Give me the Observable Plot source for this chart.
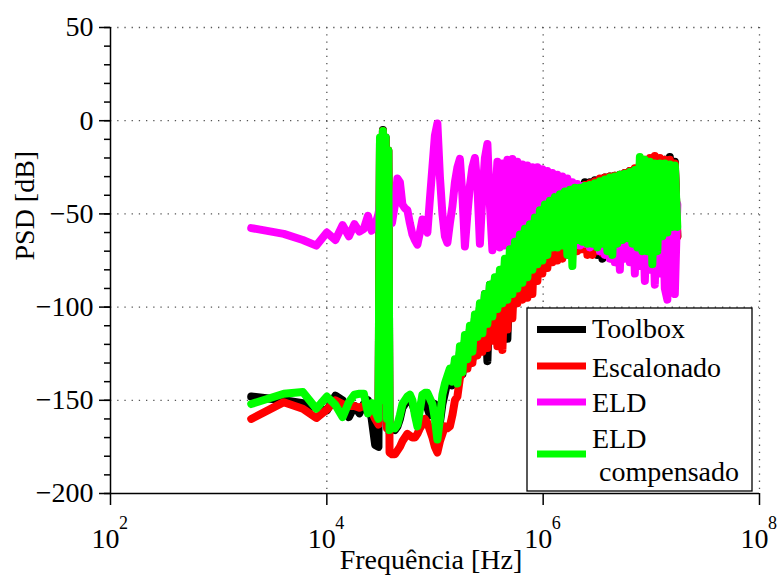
<!DOCTYPE html>
<html><head><meta charset="utf-8">
<script src="https://cdn.jsdelivr.net/npm/d3@7"></script>
<script src="https://cdn.jsdelivr.net/npm/@observablehq/plot@0.6"></script>
<style>html,body{margin:0;padding:0;background:#fff;overflow:hidden}#chart svg{display:block}</style>
</head><body><div id="chart"></div>
<script>
// Frequency grid [Hz]
const freqHz = [2000,4000,6000,8000,10000,12000,14000,16000,18000,20000,22000,24000,26000,28000,30000,
31000,32000,33000,34000,35000,36000,37000,38000,40000,
42600,44930,47380,49970,52700,55580,58610,61810,65190,68750,
72510,76470,80660,85060,89720,94620,99790,105200,111000,117100,
123500,130200,137300,144800,152800,161100,169900,179200,189000,199300,
210200,221700,233800,246600,260100,274300,289300,305100,321800,339400,
357900,377500,398100,419900,442600,466800,492400,519300,547700,577600,
609200,642500,677700,714700,753800,795000,838400,884200,932600,983600,
1037000,1094000,1154000,1217000,1283000,1353000,1427000,1505000,1587000,1674000,
1766000,1862000,1964000,2071000,2184000,2303000,2429000,2562000,2702000,2850000,
3005000,3169000,3342000,3525000,3718000,3921000,4136000,4362000,4600000,4851000,
5117000,5396000,5691000,6002000,6330000,6676000,7041000,7426000,7832000,8260000,
8711000,9187000,9690000,10220000,10770000,11360000,11990000,12640000,13330000,14060000,
14830000,15640000,16490000,17390000];

// PSD [dB]
const toolbox = [-148,-150,-151.5,-154,-155.5,-147.5,-150,-159,-153,-157,-152,-150,-160,-174,-175,
-12,-150,-5,-150,-9,-160,-16,-167,-165,
-166,-164,-160,-154,-152,-150,-150,-152,-156,-158,
-154,-150,-150,-154,-158,-155,-152,-157,-162,-152,
-146,-140,-136,-142,-130,-140,-124,-136,-118,-132,
-112,-128,-106,-124,-100,-122,-93,-129,-88,-112,
-85,-108,-82,-104,-78,-117,-73,-100,-69,-96,
-64,-93,-61,-90,-58,-86,-55,-83,-51,-80,
-48,-77,-46,-74,-43,-72,-41,-73,-39,-70,
-37.5,-69,-36,-68,-35,-67,-33,-68,-33,-70,
-32,-72,-31.5,-74,-30.5,-70,-30,-70,-29.5,-69,
-29,-68,-28,-68,-27,-69,-26,-70,-24,-71,
-23,-72,-22,-72,-21.5,-71,-21.5,-68,-21,-66,
-19.5,-64,-22,-62];

const escalonado = [-160,-151,-154.5,-159.5,-155,-150,-152,-153,-153,-154,-153,-154,-156,-160,-163,
-12,-150,-5.5,-150,-10,-165,-16,-178,-179,
-179,-177,-175,-172,-170,-168,-169,-170,-170,-168,
-165,-163,-160,-162,-166,-170,-175,-178,-172,-168,
-164,-165,-164,-158,-150,-148,-138,-135,-125,-133,
-118,-130,-112,-126,-106,-124,-100,-122,-96,-118,
-92,-121,-89,-123,-85,-112,-80,-106,-76,-98,
-71,-96,-67,-95,-63,-93,-60,-86,-56,-82,
-52,-79,-49,-76,-46,-75,-43,-74,-41,-72,
-39,-70,-37,-70,-36,-69,-34.5,-72,-33.5,-72,
-32.5,-70,-31,-71,-30.5,-72,-30,-74,-29.5,-76,
-29,-74,-28,-70,-27,-71,-25.5,-72,-23,-72,
-21,-71,-20,-70,-19,-69,-20,-68,-21,-66,
-21,-64,-23,-62];

const eld = [-57.6,-60.7,-64,-67,-60,-64,-56,-62,-55.5,-59.5,-58,-51,-59,-56,-50,
-45,-42,-45,-48,-52,-57,-55,-50,-55,
-45,-31,-33,-45,-47,-48,-55,-61,-64,-66.5,
-60,-53,-57,-60,-42,-25,-8,-1.5,-30,-50,
-62,-65.5,-55,-46,-33,-25,-20.5,-40,-67.5,-50,
-35,-25,-20,-35,-66,-40,-20,-12.5,-45,-69.5,
-45,-22,-68,-23,-67,-21,-66,-20.5,-65,-22,
-66,-23.5,-64,-24,-63,-25,-66,-25,-62,-26,
-64,-27,-62,-28,-63,-29,-62,-30,-64,-31,
-63,-33,-65,-34,-67,-35,-66,-36,-68,-36,
-67,-37,-70,-37,-72,-38,-74,-38,-76,-39,
-80,-39,-74,-40,-76,-40,-82,-40,-78,-41,
-86,-41,-80,-41,-88,-42,-82,-42,-90,-96,
-42,-85,-93,-45];

const eldCompensado = [-152,-146.5,-145.5,-154.5,-148,-152.5,-159,-151,-147,-146.5,-146.5,-157,-151.5,-156,-160,
-9,-150,-5.5,-150,-9,-160,-16,-166,-164,
-165,-163,-158,-152,-150,-148,-147,-150,-158,-164,
-155,-147,-146,-146,-149,-152,-160,-171,-160,-147,
-141,-137,-133,-140,-128,-141,-121,-135,-115,-128,
-110,-124,-104,-116,-98,-114,-93,-109,-88,-105,
-84,-101,-80,-98,-74,-96,-69,-93,-65,-90,
-61,-87,-58,-84,-55.5,-80,-52,-77,-48,-75,
-45,-72,-43,-68,-41,-68,-39.5,-67,-38,-72,
-37,-78,-36,-64,-36,-65,-35,-66,-34.5,-66,
-33.5,-68,-32.5,-66,-31.5,-70,-30.5,-72,-30,-66,
-29,-64,-28.5,-63,-27.5,-66,-26.5,-68,-19.5,-70,
-21,-70,-22,-77,-23,-70,-23,-62,-23,-60,
-23.5,-57,-24,-57];

const seriesNames = ["Toolbox", "Escalonado", "ELD", "ELD compensado"];
const seriesColors = ["#000000", "#ff0000", "#ff00ff", "#00ff00"];
const seriesValues = [toolbox, escalonado, eld, eldCompensado];

const yMajorTicks = [-200, -150, -100, -50, 0, 50];
const yMinorTicks = [-200,-190,-180,-170,-160,-150,-140,-130,-120,-110,-100,-90,-80,-70,-60,-50,-40,-30,-20,-10,0,10,20,30,40,50];
const yGridValues = [-150, -100, -50, 0, 50];
const xTicks = [1e2, 1e4, 1e6, 1e8];
const xTickExponents = ["2", "4", "6", "8"];
const xGridValues = [1e4, 1e6, 1e8];

const FONT = "Liberation Serif, Times New Roman, serif";
const fmt = d => d < 0 ? "\u2212" + (-d) : String(d);

const lineMarks = seriesValues.map((vals, s) => {
  const rows = [];
  for (let i = 0; i < freqHz.length; i++) {
    if (vals[i] !== undefined) rows.push({f: freqHz[i], v: vals[i]});
  }
  return Plot.line(rows, {x: "f", y: "v", stroke: seriesColors[s], strokeWidth: 8,
    strokeLinejoin: "round", strokeLinecap: "round"});
});

const chart = Plot.plot({
  width: 779, height: 578,
  marginLeft: 110, marginRight: 20, marginTop: 27, marginBottom: 85,
  style: {fontFamily: FONT, fontSize: "28px", background: "white", color: "black"},
  x: {type: "log", domain: [1e2, 1e8]},
  y: {domain: [-200, 50]},
  marks: [
    Plot.ruleY(yGridValues, {stroke: "#555", strokeWidth: 1.3, strokeDasharray: "1.3,5.9"}),
    Plot.ruleX(xGridValues, {stroke: "#555", strokeWidth: 1.3, strokeDasharray: "1.3,5.9"}),
    ...lineMarks,
    Plot.ruleX([1e2], {stroke: "black", strokeWidth: 1.5}),
    Plot.ruleY([-200], {stroke: "black", strokeWidth: 1.5}),
    Plot.axisY({ticks: yMinorTicks, anchor: "left", tickSize: 6, tickFormat: () => "", label: null, strokeWidth: 1.5}),
    Plot.axisY({ticks: yMajorTicks, anchor: "left", tickSize: 11, tickPadding: 6, tickFormat: fmt, label: null,
      strokeWidth: 1.5, fontSize: 28, fontFamily: FONT}),
    Plot.axisX({ticks: xTicks, anchor: "bottom", tickSize: 12, tickFormat: () => "", label: null, strokeWidth: 1.5}),
    Plot.text(xTicks, {x: d => d, frameAnchor: "bottom", text: () => "10", dx: -5, dy: 54,
      lineAnchor: "bottom", fontSize: 28, fontFamily: FONT, fill: "black"}),
    Plot.text(xTicks, {x: d => d, frameAnchor: "bottom", text: (d, i) => xTickExponents[i], dx: 13, dy: 35,
      lineAnchor: "bottom", fontSize: 18, fontFamily: FONT, fill: "black"}),
    Plot.text(["PSD [dB]"], {frameAnchor: "left", text: d => d, rotate: -90, dx: -85,
      fontSize: 28, fontFamily: FONT, fill: "black"}),
    Plot.text(["Frequência [Hz]"], {frameAnchor: "bottom", text: d => d, dx: -4, dy: 75,
      lineAnchor: "bottom", fontSize: 28, fontFamily: FONT, fill: "black"})
  ]
});

document.getElementById("chart").appendChild(chart);

// Legend
const svg = d3.select(chart);
const lg = svg.append("g").attr("font-family", FONT).attr("font-size", 28)
  .attr("fill", "black").attr("text-anchor", "start");
lg.append("rect").attr("x", 527).attr("y", 308).attr("width", 225).attr("height", 183)
  .attr("fill", "white").attr("stroke", "black").attr("stroke-width", 1.3);
const legendRows = [
  {sy: 329.5, lines: [{t: "Toolbox", x: 592, y: 338}]},
  {sy: 366, lines: [{t: "Escalonado", x: 592, y: 376.5}]},
  {sy: 402, lines: [{t: "ELD", x: 592, y: 411.5}]},
  {sy: 454, lines: [{t: "ELD", x: 592, y: 448}, {t: "compensado", x: 599, y: 481}]}
];
legendRows.forEach((r, i) => {
  lg.append("line").attr("x1", 537).attr("x2", 586).attr("y1", r.sy).attr("y2", r.sy)
    .attr("stroke", seriesColors[i]).attr("stroke-width", 7);
  r.lines.forEach(l => lg.append("text").attr("x", l.x).attr("y", l.y)
    .attr("text-anchor", "start").text(l.t));
});
</script>
</body></html>
